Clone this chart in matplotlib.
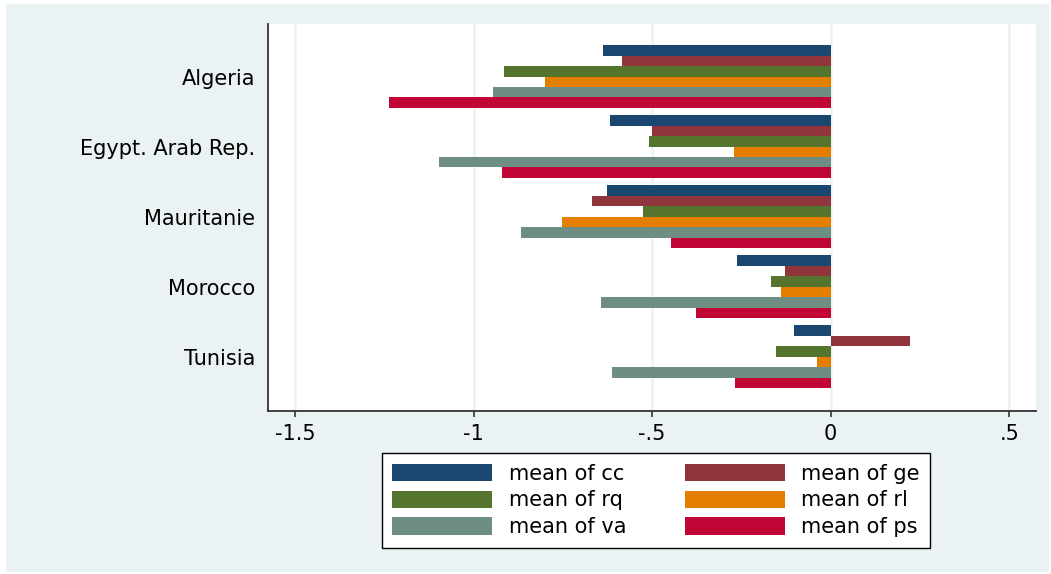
import matplotlib
matplotlib.use("Agg")
import matplotlib.pyplot as plt
from matplotlib.patches import Rectangle, Patch
import numpy as np

# Governance indicators, country means
countries = ["Algeria", "Egypt. Arab Rep.", "Mauritanie", "Morocco", "Tunisia"]
series_labels = ["mean of cc", "mean of ge", "mean of rq",
                 "mean of rl", "mean of va", "mean of ps"]
cc = [-0.638, -0.617, -0.626, -0.263, -0.103]
ge = [-0.584, -0.500, -0.668, -0.128, 0.222]
rq = [-0.914, -0.508, -0.525, -0.166, -0.154]
rl = [-0.800, -0.270, -0.753, -0.139, -0.038]
va = [-0.946, -1.097, -0.867, -0.643, -0.613]
ps = [-1.237, -0.921, -0.447, -0.376, -0.268]
xtick_values = [-1.5, -1, -0.5, 0, 0.5]
xtick_labels = ["-1.5", "-1", "-.5", "0", ".5"]

series = [cc, ge, rq, rl, va, ps]
colors = ["#1A476F", "#90353B", "#55752F", "#E37E00", "#6E8E84", "#C10534"]
bg = "#EAF2F3"

plt.rcParams["font.family"] = ["DejaVu Sans"]
fig = plt.figure(figsize=(10.51, 5.74), dpi=100, facecolor="white")
W, H = 1051, 574

# light graph region behind everything
fig.patches.append(Rectangle((6 / W, 2 / H), 1043 / W, 568 / H,
                             transform=fig.transFigure, facecolor=bg,
                             edgecolor="none", zorder=-10))

ax = fig.add_axes([268 / W, 1 - 410.7 / H, (1036 - 268) / W, (410.7 - 24) / H])
ax.set_facecolor("white")

y = np.arange(len(countries))
h = 0.149
for i, (vals, col) in enumerate(zip(series, colors)):
    ax.barh(y + (i - 2.5) * h, vals, height=h, color=col,
            edgecolor="none", zorder=3)

ax.set_xlim(-1.576, 0.575)
ax.set_ylim(4.77, -0.75)
ax.set_xticks(xtick_values)
ax.set_xticklabels(xtick_labels, fontsize=15)
ax.set_yticks(y)
ax.set_yticklabels(countries, fontsize=15)
ax.tick_params(axis="y", length=0, pad=9)
ax.tick_params(axis="x", length=4.5, width=1.2, color="#333333", pad=5)
ax.grid(axis="x", color=bg, linewidth=1.8, zorder=0)
ax.set_axisbelow(True)
for side in ["top", "right"]:
    ax.spines[side].set_visible(False)
for side in ["left", "bottom"]:
    ax.spines[side].set_color("#333333")
    ax.spines[side].set_linewidth(1.3)

# legend filled row by row: (cc, ge), (rq, rl), (va, ps)
order = [0, 2, 4, 1, 3, 5]
handles = [Patch(facecolor=colors[k], edgecolor="none") for k in order]
labels = [series_labels[k] for k in order]
leg = fig.legend(handles, labels, ncol=2, loc="center",
                 bbox_to_anchor=(656 / W, 1 - 500.5 / H), fontsize=15,
                 handlelength=4.8, handleheight=0.9, handletextpad=0.8,
                 columnspacing=2.8, labelspacing=0.32, borderpad=0.5,
                 fancybox=False, framealpha=1, edgecolor="black",
                 facecolor="white")
leg.get_frame().set_linewidth(1.0)

fig.savefig("out.png", dpi=100, facecolor="white")
